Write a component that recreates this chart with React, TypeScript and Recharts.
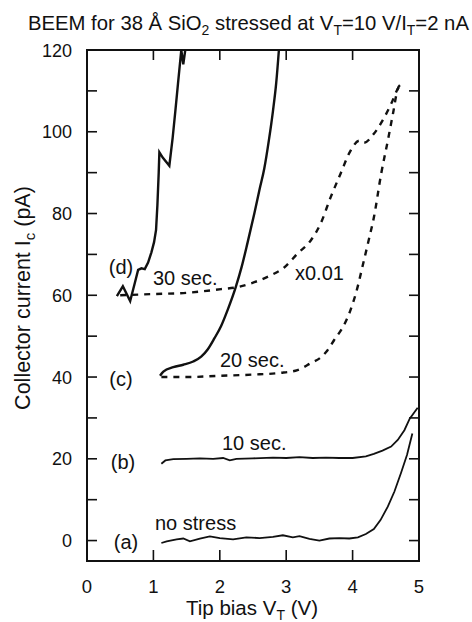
import React from "react";
import { LineChart, Line, XAxis, YAxis } from "recharts";

// Tip bias V_T (V) vs collector current I_c (pA), one [V, pA] list per trace
const noStress: [number, number][] = [
  [1.12, -0.6], [1.2, -0.2], [1.35, 0.3], [1.45, 0.5], [1.55, -0.2], [1.7, 0.5],
  [1.85, 1.0], [2.0, 0.6], [2.2, 0.3], [2.4, 0.8], [2.6, 0.6], [2.8, 0.9],
  [2.95, 1.3], [3.1, 0.8], [3.2, 1.1], [3.35, 0.4], [3.5, 0.0], [3.65, 0.5],
  [3.8, 0.6], [3.95, 0.5], [4.08, 0.8], [4.2, 1.6], [4.32, 2.8], [4.42, 5.0],
  [4.53, 8.3], [4.63, 12.0], [4.73, 16.6], [4.82, 21.0], [4.9, 26.2],
];

const tenSec: [number, number][] = [
  [1.12, 18.8], [1.18, 19.6], [1.3, 19.9], [1.5, 20.0], [1.7, 20.1], [1.9, 20.0],
  [2.05, 20.2], [2.15, 19.6], [2.25, 20.0], [2.5, 20.1], [2.8, 20.3], [3.0, 20.2],
  [3.2, 20.4], [3.4, 20.2], [3.6, 20.3], [3.8, 20.2], [4.0, 20.2], [4.2, 20.6],
  [4.32, 21.2], [4.45, 22.0], [4.58, 23.0], [4.68, 24.6], [4.78, 27.0],
  [4.86, 29.8], [4.98, 32.5],
];

const twentySec: [number, number][] = [
  [1.1, 40.3], [1.15, 41.3], [1.3, 42.4], [1.45, 43.0], [1.6, 43.8], [1.72, 45.0],
  [1.82, 46.8], [1.92, 49.5], [2.02, 52.5], [2.12, 56.5], [2.24, 62.0],
  [2.33, 67.0], [2.42, 73.0], [2.52, 80.0], [2.6, 86.0], [2.67, 91.0],
  [2.74, 98.0], [2.8, 105.0], [2.85, 112.0], [2.89, 120.0],
];

const twentySecScaled: [number, number][] = [
  [1.12, 40.0], [1.5, 40.0], [2.0, 40.3], [2.5, 40.6], [2.9, 41.0], [3.17, 41.7],
  [3.37, 43.4], [3.52, 44.8], [3.62, 46.5], [3.72, 49.0], [3.87, 52.7],
  [3.96, 56.0], [4.05, 60.5], [4.17, 68.5], [4.25, 74.0], [4.32, 79.0],
  [4.43, 89.7], [4.53, 97.8], [4.61, 104.6], [4.68, 110.5], [4.72, 111.5],
];

const thirtySec: [number, number][] = [
  [0.45, 59.8], [0.54, 62.2], [0.65, 58.6], [0.72, 63.0], [0.77, 66.2],
  [0.82, 66.6], [0.87, 66.4], [0.92, 68.0], [0.97, 70.5], [1.01, 73.0],
  [1.04, 76.0], [1.06, 82.0], [1.08, 90.0], [1.09, 95.0], [1.14, 93.7],
  [1.24, 91.7], [1.29, 98.5], [1.33, 105.0], [1.37, 111.7], [1.42, 120.0],
  [1.45, 116.5], [1.48, 120.0],
];

const thirtySecScaled: [number, number][] = [
  [0.5, 60.0], [1.0, 60.3], [1.5, 60.6], [2.02, 61.5], [2.27, 62.0], [2.52, 63.2],
  [2.77, 64.9], [2.97, 66.8], [3.17, 70.2], [3.37, 73.4], [3.52, 77.6],
  [3.67, 84.0], [3.82, 89.8], [3.97, 95.4], [4.1, 97.8], [4.17, 97.3],
  [4.32, 99.5], [4.45, 102.7], [4.58, 106.8], [4.68, 110.5], [4.72, 111.5],
];

const xTicks = [0, 1, 2, 3, 4, 5];
const yTicks = [0, 10, 20, 30, 40, 50, 60, 70, 80, 90, 100, 110, 120];
const yLabels = [0, 20, 40, 60, 80, 100, 120];
const xRange: [number, number] = [0, 5];
const yRange: [number, number] = [-5, 120];

const W = 472;
const H = 622;
// plot box, shared by the chart margins and the frame layer
const PLOT = { left: 87, top: 50, width: 332, height: 511 };
const X_AXIS_H = H - PLOT.top - PLOT.height;

const FONT = "'Liberation Sans', Arial, Helvetica, sans-serif";
const INK = "#111";
const TICK = 10;
const EDGE = 2; // frame thickness
const TW = 1.6; // tick thickness

const toRows = (pts: [number, number][]) => pts.map(([x, y]) => ({ x, y }));

const frameX = (v: number) =>
  PLOT.left + ((v - xRange[0]) / (xRange[1] - xRange[0])) * PLOT.width;
const frameY = (v: number) =>
  PLOT.top + ((yRange[1] - v) / (yRange[1] - yRange[0])) * PLOT.height;

function LeftTick(props: any) {
  const { x, y, payload } = props;
  if (!yLabels.includes(payload.value)) return <g />;
  return (
    <text x={x - 15} y={y + 6.5} textAnchor="end" fontSize={18} fontFamily={FONT} fill={INK}>
      {payload.value}
    </text>
  );
}

function BottomTick(props: any) {
  const { x, y, payload } = props;
  return (
    <text x={x} y={y + 32} textAnchor="middle" fontSize={18.5} fontFamily={FONT} fill={INK}>
      {payload.value}
    </text>
  );
}

// box frame and inward ticks on all four sides, drawn as filled bars
function Frame() {
  const right = PLOT.left + PLOT.width;
  const bottom = PLOT.top + PLOT.height;
  const h = EDGE / 2;
  return (
    <g fill={INK}>
      <rect x={PLOT.left - h} y={PLOT.top - h} width={PLOT.width + EDGE} height={EDGE} />
      <rect x={PLOT.left - h} y={bottom - h} width={PLOT.width + EDGE} height={EDGE} />
      <rect x={PLOT.left - h} y={PLOT.top - h} width={EDGE} height={PLOT.height + EDGE} />
      <rect x={right - h} y={PLOT.top - h} width={EDGE} height={PLOT.height + EDGE} />
      {xTicks.map((v) => (
        <g key={`x${v}`}>
          <rect x={frameX(v) - TW / 2} y={bottom - TICK - 1} width={TW} height={TICK + 1} />
          <rect x={frameX(v) - TW / 2} y={PLOT.top} width={TW} height={TICK} />
        </g>
      ))}
      {yTicks.map((v) => (
        <g key={`y${v}`}>
          <rect x={PLOT.left} y={frameY(v) - TW / 2} width={TICK} height={TW} />
          <rect x={right - TICK} y={frameY(v) - TW / 2} width={TICK} height={TW} />
        </g>
      ))}
    </g>
  );
}

function Texts() {
  const t = { fontFamily: FONT, fill: INK, fontSize: 20 } as const;
  return (
    <g>
      <text x={28} y={30} {...t} fontSize={20.3}>
        BEEM for 38 Å SiO
        <tspan dy={5} fontSize={14}>2</tspan>
        <tspan dy={-5}> stressed at V</tspan>
        <tspan dy={5} fontSize={14}>T</tspan>
        <tspan dy={-5}>=10 V/I</tspan>
        <tspan dy={5} fontSize={14}>T</tspan>
        <tspan dy={-5}>=2 nA</tspan>
      </text>

      <text transform="translate(30,298) rotate(-90)" textAnchor="middle" {...t} fontSize={21.5}>
        Collector current I<tspan dy={5} fontSize={15}>c</tspan>
        <tspan dy={-5}> (pA)</tspan>
      </text>

      <text x={252} y={615} textAnchor="middle" {...t} fontSize={20.5}>
        Tip bias V<tspan dy={5} fontSize={14}>T</tspan>
        <tspan dy={-5}> (V)</tspan>
      </text>

      <text x={121} y={274} textAnchor="middle" {...t}>(d)</text>
      <text x={153} y={285} {...t}>30 sec.</text>
      <text x={295} y={280} {...t}>x0.01</text>
      <text x={121} y={386} textAnchor="middle" {...t}>(c)</text>
      <text x={220} y={367} {...t}>20 sec.</text>
      <text x={123} y={469} textAnchor="middle" {...t}>(b)</text>
      <text x={222} y={450} {...t}>10 sec.</text>
      <text x={126} y={549} textAnchor="middle" {...t}>(a)</text>
      <text x={155} y={530} {...t}>no stress</text>
    </g>
  );
}

export default function App() {
  const solid = { stroke: INK, fill: "none", dot: false, isAnimationActive: false } as const;
  const dashed = { ...solid, strokeDasharray: "6 6", strokeWidth: 2.4 } as const;

  return (
    <div style={{ position: "absolute", left: 0, top: 0, width: W, height: H, background: "#fff" }}>
      <LineChart
        width={W}
        height={H}
        margin={{ top: PLOT.top, right: W - PLOT.left - PLOT.width, bottom: 0, left: 0 }}
      >
        <XAxis
          type="number"
          dataKey="x"
          domain={xRange}
          ticks={xTicks}
          height={X_AXIS_H}
          tickSize={0}
          tickMargin={0}
          tickLine={false}
          axisLine={false}
          tick={(p: any) => <BottomTick {...p} />}
        />
        <YAxis
          type="number"
          domain={yRange}
          ticks={yTicks}
          interval={0}
          width={PLOT.left}
          tickSize={0}
          tickMargin={0}
          tickLine={false}
          axisLine={false}
          tick={(p: any) => <LeftTick {...p} />}
        />

        <Line data={toRows(noStress)} dataKey="y" type="linear" strokeWidth={1.8} {...solid} />
        <Line data={toRows(tenSec)} dataKey="y" type="linear" strokeWidth={1.8} {...solid} />
        <Line data={toRows(twentySec)} dataKey="y" type="monotone" strokeWidth={2.4} {...solid} />
        <Line data={toRows(thirtySec)} dataKey="y" type="linear" strokeWidth={2.4} {...solid} />
        <Line data={toRows(twentySecScaled)} dataKey="y" type="monotone" {...dashed} />
        <Line data={toRows(thirtySecScaled)} dataKey="y" type="monotone" {...dashed} />
      </LineChart>
      <svg
        width={W}
        height={H}
        style={{ position: "absolute", left: 0, top: 0, pointerEvents: "none" }}
      >
        <Frame />
        <Texts />
      </svg>
    </div>
  );
}
